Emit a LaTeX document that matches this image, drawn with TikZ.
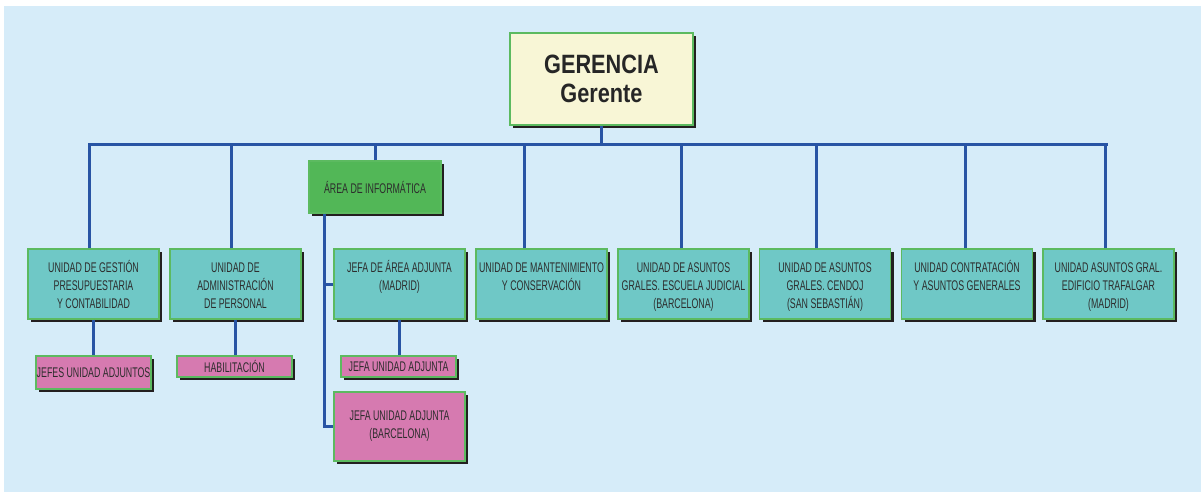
\documentclass[tikz,border=0pt]{standalone}
\usepackage{fontspec}
\setmainfont{Liberation Sans}
\newfontfamily\smallfont[FakeStretch=0.63]{Liberation Sans}
\newfontfamily\hdfont[FakeStretch=0.82]{Liberation Sans}
\usetikzlibrary{shadows}
\definecolor{bgc}{RGB}{214,236,249}
\definecolor{tealc}{RGB}{111,200,198}
\definecolor{pinkc}{RGB}{214,122,176}
\definecolor{greenc}{RGB}{82,183,87}
\definecolor{yellc}{RGB}{248,246,214}
\definecolor{edgec}{RGB}{92,186,96}
\definecolor{linec}{RGB}{40,84,164}
\definecolor{shadc}{RGB}{35,31,32}
\definecolor{txtc}{RGB}{45,45,45}
\newcommand{\toptext}[1]{\parbox[c][70pt][t]{131pt}{\centering\rule{0pt}{23pt}#1}}
\tikzset{
  boxbase/.style={draw=edgec, line width=1.2pt, inner sep=0pt, text=txtc,
    general shadow={fill=shadc, shadow xshift=3pt, shadow yshift=-3pt},
    font=\smallfont\fontsize{14}{18}\selectfont, align=center},
  unitbox/.style={boxbase, fill=tealc, minimum width=131pt, minimum height=70pt},
  pinkbox/.style={boxbase, fill=pinkc, minimum width=115pt},
  areabox/.style={boxbase, fill=greenc, minimum width=132pt, minimum height=52pt},
  topbox/.style={boxbase, fill=yellc, minimum width=183pt, minimum height=92pt,
    font=\hdfont\bfseries\fontsize{26.5}{29}\selectfont, text=black!85},
  conn/.style={draw=linec, line width=3pt}
}
\begin{document}
\begin{tikzpicture}[x=1pt,y=-1pt]
\useasboundingbox (0,0) rectangle (1201,492);
\fill[bgc] (4,6) rectangle (1201,492);

\node[topbox] (ger) at (601.5,79) {GERENCIA\\Gerente};
\node[areabox] (info) at (375,187) {ÁREA DE INFORMÁTICA};

\node[unitbox] (b1) at (93.5,284) {\toptext{UNIDAD DE GESTIÓN\\PRESUPUESTARIA\\Y CONTABILIDAD}};
\node[unitbox] (b2) at (235.5,284) {\toptext{UNIDAD DE\\ADMINISTRACIÓN\\DE PERSONAL}};
\node[unitbox] (b3) at (399.5,284) {\toptext{JEFA DE ÁREA ADJUNTA\\(MADRID)}};
\node[unitbox] (b4) at (541.5,284) {\toptext{UNIDAD DE MANTENIMIENTO\\Y CONSERVACIÓN}};
\node[unitbox] (b5) at (683.5,284) {\toptext{UNIDAD DE ASUNTOS\\GRALES. ESCUELA JUDICIAL\\(BARCELONA)}};
\node[unitbox] (b6) at (825,284) {\toptext{UNIDAD DE ASUNTOS\\GRALES. CENDOJ\\(SAN SEBASTIÁN)}};
\node[unitbox] (b7) at (967,284) {\toptext{UNIDAD CONTRATACIÓN\\Y ASUNTOS GENERALES}};
\node[unitbox] (b8) at (1108.5,284) {\toptext{UNIDAD ASUNTOS GRAL.\\EDIFICIO TRAFALGAR\\(MADRID)}};

\node[pinkbox, minimum height=33pt] (p1) at (93.5,372.5) {JEFES UNIDAD ADJUNTOS};
\node[pinkbox, minimum height=21pt] (p2) at (234.5,366.5) {HABILITACIÓN};
\node[pinkbox, minimum height=21pt] (p3) at (398.5,366.5) {JEFA UNIDAD ADJUNTA};
\node[pinkbox, minimum width=131pt, minimum height=69pt] (p4) at (399.5,426.5) {JEFA UNIDAD ADJUNTA\\(BARCELONA)};

\coordinate (bl) at (88,144);
\coordinate (br) at (1108,144);
\draw[conn] (bl) -- (br);
\draw[conn] (ger.south) -- (ger.south |- bl);
\draw[conn] ([xshift=-4.5pt]b1.north) -- ([xshift=-4.5pt]b1.north |- bl);
\draw[conn] ([xshift=-4.5pt]b2.north) -- ([xshift=-4.5pt]b2.north |- bl);
\draw[conn] (info.north) -- (info.north |- bl);
\draw[conn] ([xshift=-17.5pt]b4.north) -- ([xshift=-17.5pt]b4.north |- bl);
\draw[conn] ([xshift=-2.5pt]b5.north) -- ([xshift=-2.5pt]b5.north |- bl);
\draw[conn] ([xshift=-9pt]b6.north) -- ([xshift=-9pt]b6.north |- bl);
\draw[conn] ([xshift=-2pt]b7.north) -- ([xshift=-2pt]b7.north |- bl);
\draw[conn] ([xshift=-3.5pt]b8.north) -- ([xshift=-3.5pt]b8.north |- bl);

\coordinate (vx) at ([xshift=16pt]info.south west);
\draw[conn] (vx) |- (p4.west);
\draw[conn] (b3.west) -- (b3.west -| vx);

\draw[conn] (b1.south) -- (b1.south |- p1.north);
\draw[conn] (b2.south) -- (b2.south |- p2.north);
\draw[conn] (b3.south) -- (b3.south |- p3.north);
\end{tikzpicture}
\end{document}
